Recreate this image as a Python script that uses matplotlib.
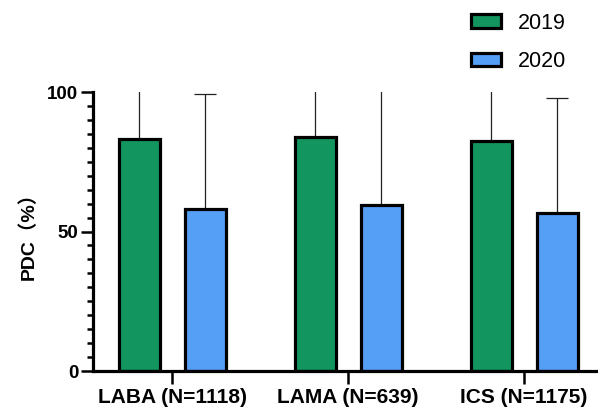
import numpy as np
import matplotlib
matplotlib.use("Agg")
from matplotlib import pyplot as plt
from matplotlib.ticker import MultipleLocator

plt.rcParams['font.family'] = ['Liberation Sans', 'Noto Sans CJK SC', 'DejaVu Sans']

groups = ['LABA (N=1118)', 'LAMA (N=639)', 'ICS (N=1175)']
pdc_2019 = [83.2, 83.9, 82.5]
pdc_2020 = [58.2, 59.6, 56.8]
sd_2019 = [20.0, 19.0, 20.0]
sd_2020 = [41.1, 42.0, 41.1]
series_labels = ['2019', '2020']

green = '#12955f'
blue = '#559ff7'

fig = plt.figure(figsize=(5.98, 4.07), dpi=100)
ax = fig.add_axes([93 / 598, 36 / 407, 505 / 598, 279 / 407])

x = np.arange(len(groups))
w = 0.233
off = 0.1875

for xs, vals, sd, col, lab in [(x - off, pdc_2019, sd_2019, green, series_labels[0]),
                              (x + off, pdc_2020, sd_2020, blue, series_labels[1])]:
    ax.errorbar(xs, vals, yerr=[np.zeros(len(sd)), sd], fmt='none', ecolor='#222222',
                elinewidth=0.9, capsize=8, capthick=0.9, zorder=1)
    ax.bar(xs, vals, width=w, color=col, edgecolor='black', linewidth=2.3, label=lab, zorder=2)

ax.set_xlim(-0.449, 2.42)
ax.set_ylim(0, 100)
ax.set_yticks([0, 50, 100])
ax.yaxis.set_minor_locator(MultipleLocator(5))
ax.set_xticks(x)
ax.set_xticklabels(groups, fontsize=15, fontweight='bold')
for t in ax.get_yticklabels():
    t.set_fontsize(13.5)
    t.set_fontweight('bold')

ax.spines['top'].set_visible(False)
ax.spines['right'].set_visible(False)
ax.spines['left'].set_linewidth(2.3)
ax.spines['bottom'].set_linewidth(2.3)
ax.tick_params(axis='y', which='major', length=8.5, width=1.8, pad=2)
ax.tick_params(axis='y', which='minor', length=4.3, width=1.8)
ax.tick_params(axis='x', which='major', length=9, width=1.8, pad=3)

ax.set_ylabel('PDC（%）', fontsize=14, fontweight='bold', labelpad=7)

fig.legend(loc='upper left', bbox_to_anchor=(460 / 598, 1 - 2 / 407), frameon=False,
           fontsize=15.5, handlelength=1.4, handleheight=0.6, handletextpad=0.8,
           labelspacing=0.8, borderpad=0)

plt.savefig('out.png', dpi=100)
